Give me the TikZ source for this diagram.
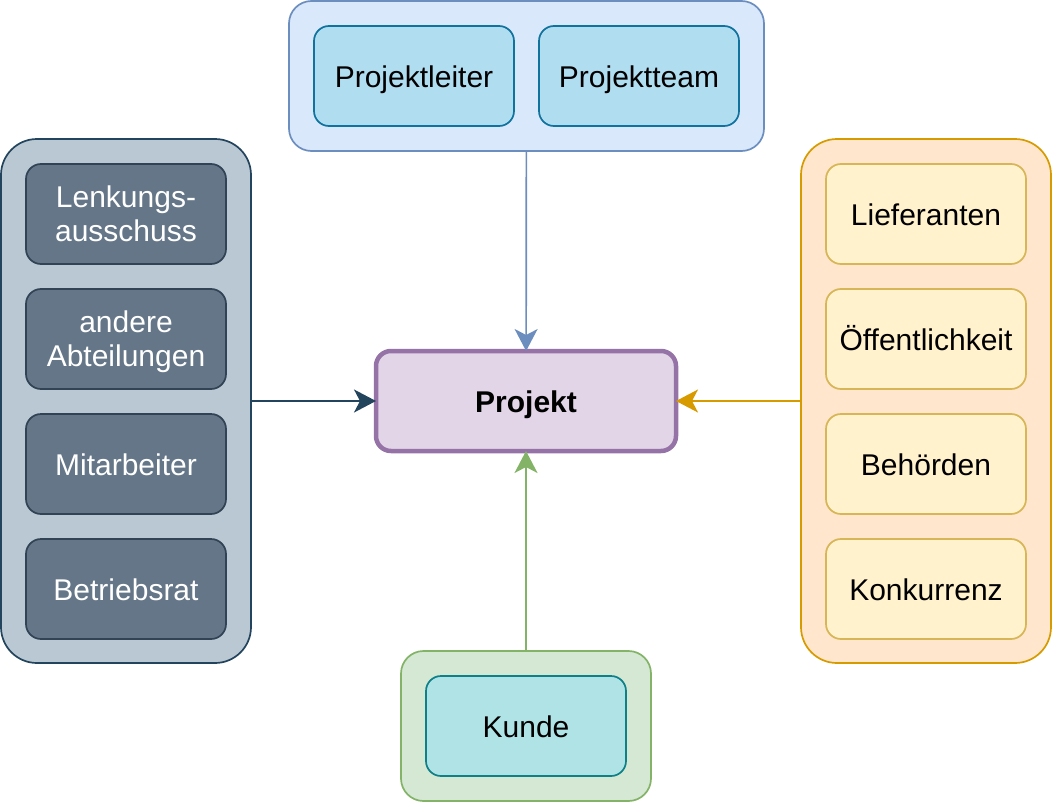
\documentclass[tikz,border=0pt]{standalone}
\usepackage{fontspec}
\setmainfont{Liberation Sans}
\usetikzlibrary{arrows.meta}
\definecolor{slateOut}{HTML}{BAC8D3}
\definecolor{slateOutD}{HTML}{23445D}
\definecolor{slateIn}{HTML}{647687}
\definecolor{slateInD}{HTML}{314354}
\definecolor{blueOut}{HTML}{DAE8FC}
\definecolor{blueOutD}{HTML}{6C8EBF}
\definecolor{blueIn}{HTML}{B1DDF0}
\definecolor{blueInD}{HTML}{10739E}
\definecolor{orangeOut}{HTML}{FFE6CC}
\definecolor{orangeOutD}{HTML}{D79B00}
\definecolor{yellowIn}{HTML}{FFF2CC}
\definecolor{yellowInD}{HTML}{D6B656}
\definecolor{purpleF}{HTML}{E1D5E7}
\definecolor{purpleD}{HTML}{9673A6}
\definecolor{greenOut}{HTML}{D5E8D4}
\definecolor{greenOutD}{HTML}{82B366}
\definecolor{tealIn}{HTML}{B0E3E6}
\definecolor{tealInD}{HTML}{0E8088}
\begin{document}
\begin{tikzpicture}[x=1pt,y=-1pt,
  base/.style={rectangle, inner sep=0pt, outer sep=0pt, line width=1.7pt,
    font=\fontsize{30}{34}\selectfont, align=center},
  group/.style={base, rounded corners=22.5pt},
  itembox/.style={base, rounded corners=15pt, minimum width=200pt, minimum height=100pt,
    text height=27.5pt, text depth=5.5pt},
  twoline/.style={text height=, text depth=},
  arr/.style={line width=1.7pt, -{Stealth[length=22pt,width=23pt,inset=6pt]}}
]
\useasboundingbox (0,0) rectangle (1053,803);

% groups
\node[group, draw=blueOutD, fill=blueOut, minimum width=475pt, minimum height=150pt] (top) at (526.5,76) {};
\node[group, rounded corners=36pt, draw=slateOutD, fill=slateOut, minimum width=250pt, minimum height=524pt] (left) at (126,401) {};
\node[group, rounded corners=36pt, draw=orangeOutD, fill=orangeOut, minimum width=250pt, minimum height=524pt] (right) at (926,401) {};
\node[group, draw=greenOutD, fill=greenOut, minimum width=250pt, minimum height=150pt] (bottom) at (526,726) {};

% top items
\node[itembox, draw=blueInD, fill=blueIn] (leiter) at (414,76) {Projektleiter};
\node[itembox, draw=blueInD, fill=blueIn] (team) at (639,76) {Projektteam};

% left items
\node[itembox, twoline, draw=slateInD, fill=slateIn, text=white] (lenk) at (126,214) {Lenkungs-\\ausschuss};
\node[itembox, twoline, text depth=0pt, draw=slateInD, fill=slateIn, text=white] (abt) at (126,339) {andere\\Abteilungen};
\node[itembox, draw=slateInD, fill=slateIn, text=white] (mit) at (126,464) {Mitarbeiter};
\node[itembox, draw=slateInD, fill=slateIn, text=white] (br) at (126,589) {Betriebsrat};

% right items
\node[itembox, draw=yellowInD, fill=yellowIn] (lief) at (926,214) {Lieferanten};
\node[itembox, draw=yellowInD, fill=yellowIn] (oeff) at (926,339) {Öffentlichkeit};
\node[itembox, draw=yellowInD, fill=yellowIn] (beh) at (926,464) {Behörden};
\node[itembox, draw=yellowInD, fill=yellowIn] (konk) at (926,589) {Konkurrenz};

% bottom item
\node[itembox, draw=tealInD, fill=tealIn] (kunde) at (526,726) {Kunde};

% center
\node[itembox, minimum width=300pt, line width=4.5pt, draw=purpleD, fill=purpleF, font=\fontsize{30}{34}\selectfont\bfseries] (proj) at (526,401) {Projekt};

% connectors
\draw[arr, blueOutD] (top) -- (proj);
\draw[arr, slateOutD] (left) -- (proj);
\draw[arr, orangeOutD] (right) -- (proj);
\draw[arr, greenOutD] (bottom) -- (proj);
\end{tikzpicture}
\end{document}
